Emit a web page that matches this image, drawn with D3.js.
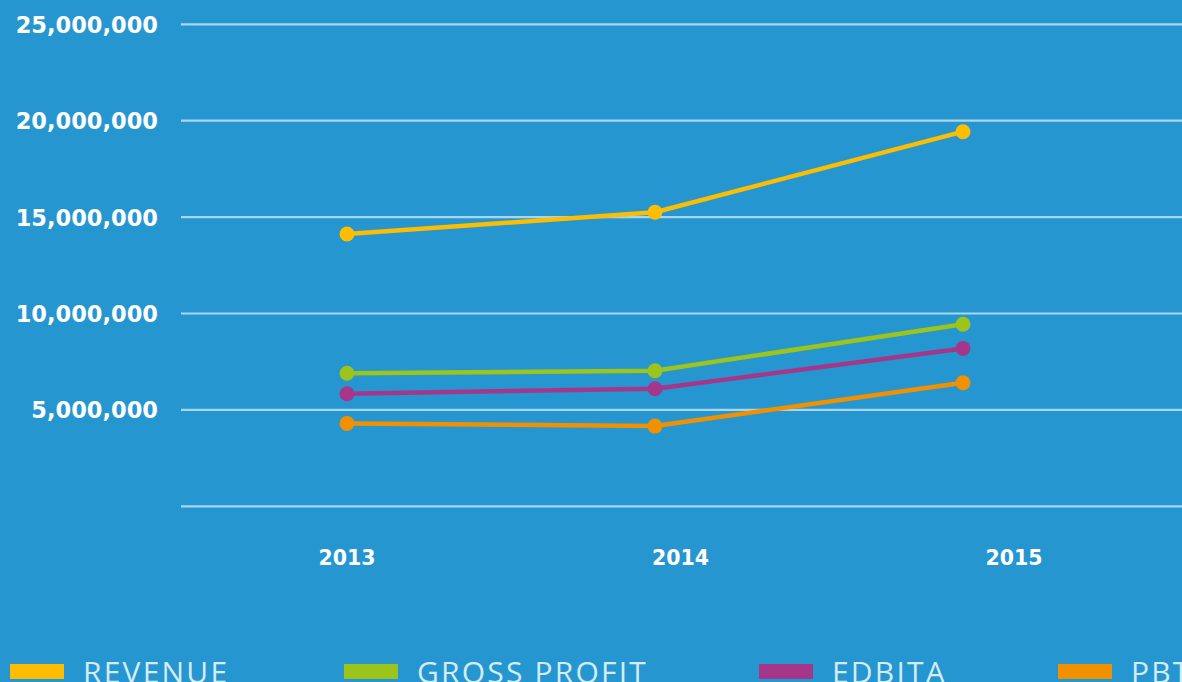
<!DOCTYPE html>
<html>
<head>
<meta charset="utf-8">
<script src="https://cdn.jsdelivr.net/npm/d3@7"></script>
<style>
  html, body { margin: 0; padding: 0; background: #2596d0; }
  #chart { width: 1182px; height: 682px; overflow: hidden; }
  .tick-label { font-family: "DejaVu Sans", sans-serif; font-weight: 700; fill: #ffffff; }
  .legend-label { font-family: "Open Sans", sans-serif; font-weight: 400; fill: #d4ecf8; }
</style>
</head>
<body>
<div id="chart"></div>
<script>
const years = ['2013', '2014', '2015'];
const revenue = [14120000, 15250000, 19430000];
const grossProfit = [6900000, 7030000, 9440000];
const edbita = [5840000, 6100000, 8190000];
const pbt = [4300000, 4160000, 6410000];
const yTicks = [5000000, 10000000, 15000000, 20000000, 25000000];
const gridValues = [0, 5000000, 10000000, 15000000, 20000000, 25000000];

const series = [
    { name: 'REVENUE', values: revenue, color: '#fdbd00' },
    { name: 'GROSS PROFIT', values: grossProfit, color: '#9dc41a' },
    { name: 'EDBITA', values: edbita, color: '#a6368a' },
    { name: 'PBT', values: pbt, color: '#f29100' }
];

const width = 1182, height = 682;

const svg = d3.select('#chart')
    .append('svg')
    .attr('width', width)
    .attr('height', height);

const y = d3.scaleLinear()
    .domain([0, 25000000])
    .range([506.3, 24.3]);

// points and category labels sit on slightly different spacings
const xPoint = d3.scalePoint().domain(years).range([347, 963]);
const xLabel = d3.scalePoint().domain(years).range([347, 1014]);

// grid
svg.append('g')
    .selectAll('line')
    .data(gridValues)
    .enter()
    .append('line')
    .attr('x1', 181)
    .attr('x2', width)
    .attr('y1', d => y(d))
    .attr('y2', d => y(d))
    .attr('stroke', '#a9d6ef')
    .attr('stroke-width', 2.2);

// y tick labels
const fmt = d3.format(',');
svg.append('g')
    .selectAll('text')
    .data(yTicks)
    .enter()
    .append('text')
    .attr('class', 'tick-label')
    .attr('x', 158)
    .attr('y', d => y(d) + 8.5)
    .attr('text-anchor', 'end')
    .style('font-size', '22.5px')
    .text(d => fmt(d));

// x labels
svg.append('g')
    .selectAll('text')
    .data(years)
    .enter()
    .append('text')
    .attr('class', 'tick-label')
    .attr('x', d => xLabel(d))
    .attr('y', 565)
    .attr('text-anchor', 'middle')
    .style('font-size', '20.5px')
    .text(d => d);

// lines + dots
const line = d3.line()
    .x((d, i) => xPoint(years[i]))
    .y(d => y(d));

const g = svg.append('g');
series.slice().reverse().forEach(s => {
    g.append('path')
        .datum(s.values)
        .attr('d', line)
        .attr('fill', 'none')
        .attr('stroke', s.color)
        .attr('stroke-width', 4.5);
    g.selectAll(null)
        .data(s.values)
        .enter()
        .append('circle')
        .attr('cx', (d, i) => xPoint(years[i]))
        .attr('cy', d => y(d))
        .attr('r', 7.5)
        .attr('fill', s.color);
});

// legend
const legendX = [10, 344, 759, 1058];
const legend = svg.append('g')
    .selectAll('g')
    .data(series)
    .enter()
    .append('g')
    .attr('transform', (d, i) => `translate(${legendX[i]},0)`);

legend.append('rect')
    .attr('x', 0)
    .attr('y', 664)
    .attr('width', 54)
    .attr('height', 15)
    .attr('fill', d => d.color);

legend.append('text')
    .attr('class', 'legend-label')
    .attr('x', 73)
    .attr('y', 683)
    .style('font-size', '30px')
    .style('letter-spacing', '2.2px')
    .text(d => d.name);
</script>
</body>
</html>
